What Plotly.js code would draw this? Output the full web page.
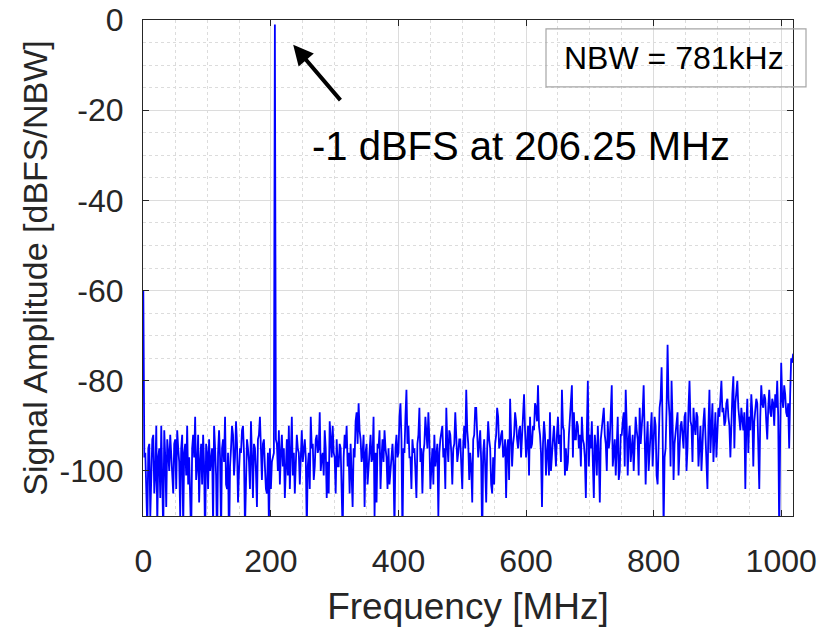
<!DOCTYPE html>
<html>
<head>
<meta charset="utf-8">
<script src="https://cdn.plot.ly/plotly-3.0.1.min.js"></script>
<style>
  html, body { margin: 0; padding: 0; background: #ffffff; }
  #chart { width: 827px; height: 627px; }
</style>
</head>
<body>
<div id="chart"></div>
<script>
// FFT spectrum, bins every 1.5625 MHz (2 x 781.25 kHz) starting at 0 MHz
const binStartMHz = 0;
const binStepMHz = 1.5625;

// Signal amplitude [dBFS/NBW], 20 bins per row
const amplitudeDbfs = [
  -60,-97, -96,-104, -113,-95, -94,-110, -99,-93, -92,-105, -101,-90, -112,-97, -95,-106, -90,-99,
  -114,-91, -97,-108, -93,-96, -100,-92, -96,-102, -105,-94, -93,-104, -91,-95, -98,-110, -95,-92,
  -113,-96, -94,-101, -90,-103, -97,-106, -115,-95, -92,-97, -88,-102, -99,-92, -107,-98, -94,-103,
  -92,-99, -116,-94, -96,-104, -93,-100, -98,-95, -112,-90, -95,-101, -117,-96, -91,-97, -114,-95,
  -93,-98, -88,-103, -104,-96, -118,-99, -95,-90, -92,-101, -97,-89, -94,-107, -100,-95, -96,-91,
  -90,-96, -113,-99, -93,-95, -98,-104, -89,-97, -106,-94, -95,-100, -108,-93, -92,-88, -97,-102,
  -94,-93, -99,-104, -105,-96, -112,-95, -104,-98, -97,-96, -1,-93, -94,-100, -91,-103, -96,-92,
  -99,-95, -106,-97, -93,-101, -90,-104, -95,-88, -101,-96, -105,-98, -92,-95, -96,-103, -94,-91,
  -98,-94, -93,-97, -113,-99, -96,-104, -88,-95, -94,-102, -99,-93, -92,-96, -95,-87, -100,-97,
  -96,-101, -91,-95, -106,-98, -105,-89, -94,-97, -90,-96, -97,-105, -93,-99, -99,-94, -95,-104,
  -114,-97, -92,-95, -90,-99, -96,-105, -94,-101, -108,-95, -97,-89, -87,-94, -85,-91, -93,-98,
  -96,-92, -108,-96, -94,-103, -99,-95, -92,-98, -97,-88, -110,-96, -107,-94, -95,-91, -104,-97,
  -93,-98, -91,-95, -97,-104, -95,-103, -100,-96, -94,-99, -113,-95, -92,-97, -96,-88, -85,-93,
  -115,-95, -96,-88, -82,-94, -90,-97, -97,-104, -93,-96, -95,-100, -106,-94, -92,-86, -98,-95,
  -105,-96, -94,-88, -91,-95, -87,-93, -104,-97, -95,-103, -92,-99, -97,-94, -110,-96, -93,-91,
  -90,-97, -95,-104, -86,-94, -98,-91, -92,-96, -103,-95, -94,-87, -91,-98, -96,-93, -93,-100,
  -104,-94, -90,-95, -82,-91, -94,-102, -96,-99, -107,-93, -92,-86, -86,-92, -97,-94, -91,-98,
  -116,-96, -93,-99, -107,-95, -89,-93, -95,-103, -105,-97, -103,-94, -92,-86, -88,-95, -94,-92,
  -91,-97, -96,-93, -106,-95, -93,-102, -84,-92, -99,-94, -92,-87, -89,-93, -95,-91, -90,-97,
  -93,-89, -83,-91, -97,-94, -90,-101, -88,-95, -94,-90, -91,-85, -86,-89, -81,-90, -92,-96,
  -108,-94, -89,-92, -101,-96, -93,-101, -87,-100, -95,-93, -90,-96, -99,-92, -88,-94, -92,-98,
  -82,-90, -91,-101, -95,-100, -98,-92, -89,-86, -81,-97, -87,-93, -93,-89, -90,-95, -92,-99,
  -88,-93, -94,-97, -106,-91, -80,-99, -92,-95, -89,-98, -106,-92, -95,-101, -90,-96, -107,-93,
  -91,-88, -86,-92, -94,-100, -89,-95, -93,-87, -81,-99, -96,-93, -101,-91, -88,-102, -100,-92,
  -92,-89, -87,-99, -82,-90, -101,-93, -90,-98, -94,-92, -100,-95, -88,-91, -93,-101, -86,-94,
  -91,-87, -81,-92, -103,-94, -89,-100, -95,-90, -87,-99, -92,-88, -90,-101, -103,-91, -86,-84,
  -77,-90, -113,-97, -95,-86, -72,-84, -88,-99, -80,-89, -102,-94, -91,-88, -87,-101, -93,-90,
  -89,-92, -95,-88, -87,-100, -95,-86, -80,-89, -90,-98, -86,-90, -92,-87, -88,-99, -94,-90,
  -100,-92, -89,-86, -92,-95, -104,-90, -82,-96, -90,-85, -98,-91, -87,-97, -91,-86, -88,-84,
  -80,-87, -86,-90, -89,-85, -84,-88, -90,-97, -87,-83, -79,-95, -85,-82, -80,-86, -88,-91,
  -86,-89, -91,-87, -104,-90, -84,-96, -88,-91, -83,-87, -99,-89, -87,-84, -85,-92, -104,-88,
  -81,-85, -86,-83, -84,-89, -93,-86, -82,-87, -88,-84, -85,-90, -83,-86, -80,-88, -114,-92,
  -76,-84, -86,-81, -83,-87, -88,-85, -95,-83, -75,-76, -74
];

// Axis ticks
const xTickVals = [0, 200, 400, 600, 800, 1000];
const xTickText = ['0', '200', '400', '600', '800', '1000'];
const yTickVals = [0, -20, -40, -60, -80, -100];
const yTickText = ['0', '-20', '-40', '-60', '-80', '-100'];

// Annotation texts
const toneLabel = '-1 dBFS at 206.25 MHz';
const nbwLabel = 'NBW = 781kHz';
const xTitle = 'Frequency [MHz]';
const yTitle = 'Signal Amplitude [dBFS/NBW]';

const freqMHz = amplitudeDbfs.map((_, i) => binStartMHz + i * binStepMHz);

const FONT = 'Liberation Sans, Arial, Helvetica, sans-serif';
const TXT = '#262626';
const AX = '#262626';

const trace = {
  type: 'scatter',
  mode: 'lines',
  x: freqMHz,
  y: amplitudeDbfs,
  line: { color: '#0000ff', width: 1.8 },
  hoverinfo: 'x+y',
  showlegend: false
};

const layout = {
  width: 827,
  height: 627,
  margin: { l: 143, r: 34, t: 20, b: 111, pad: 0 },
  paper_bgcolor: '#ffffff',
  plot_bgcolor: '#ffffff',
  font: { family: FONT, color: TXT },
  showlegend: false,
  xaxis: {
    range: [-0.5, 1018.5],
    tickmode: 'array',
    tickvals: xTickVals,
    ticktext: xTickText,
    ticks: 'inside',
    ticklen: 6,
    tickwidth: 1,
    tickcolor: AX,
    showline: true,
    linecolor: AX,
    linewidth: 1,
    mirror: 'ticks',
    showgrid: true,
    gridcolor: '#dcdcdc',
    gridwidth: 1,
    zeroline: false,
    minor: { dtick: 50, tick0: 0, showgrid: true, gridcolor: '#dcdcdc', griddash: 'dot', gridwidth: 1, ticks: '' },
    tickfont: { family: FONT, size: 32, color: TXT },
    ticklabelstandoff: 17,
    title: { text: xTitle, font: { family: FONT, size: 37, color: TXT }, standoff: 14 },
    automargin: false
  },
  yaxis: {
    range: [-110, 0],
    tickmode: 'array',
    tickvals: yTickVals,
    ticktext: yTickText,
    ticks: 'inside',
    ticklen: 6,
    tickwidth: 1,
    tickcolor: AX,
    showline: true,
    linecolor: AX,
    linewidth: 1,
    mirror: 'ticks',
    showgrid: true,
    gridcolor: '#dcdcdc',
    gridwidth: 1,
    zeroline: false,
    minor: { dtick: 5, tick0: 0, showgrid: true, gridcolor: '#dcdcdc', griddash: 'dot', gridwidth: 1, ticks: '' },
    tickfont: { family: FONT, size: 32, color: TXT },
    ticklabelstandoff: 12,
    title: { text: yTitle, font: { family: FONT, size: 34, color: TXT }, standoff: 1 },
    automargin: false
  },
  shapes: [
    {
      type: 'rect', xref: 'paper', yref: 'paper',
      x0: 0.62, x1: 1.02, y0: 0.865, y1: 0.982,
      line: { color: '#a6a6a6', width: 1.2 },
      fillcolor: 'rgba(0,0,0,0)'
    }
  ],
  annotations: [
    {
      xref: 'x', yref: 'y', axref: 'x', ayref: 'y',
      x: 235, y: -5.5, ax: 311, ay: -18.1,
      text: '', showarrow: true,
      arrowhead: 2, arrowsize: 1, arrowwidth: 4, arrowcolor: '#000000', standoff: 0
    },
    {
      xref: 'x', yref: 'y',
      x: 262, y: -27.9, xanchor: 'left', yanchor: 'middle',
      text: toneLabel, showarrow: false,
      font: { family: FONT, size: 40, color: '#000000' }
    },
    {
      xref: 'paper', yref: 'paper',
      x: 0.817, y: 0.923, xanchor: 'center', yanchor: 'middle',
      text: nbwLabel, showarrow: false,
      font: { family: FONT, size: 32, color: '#000000' }
    }
  ]
};

Plotly.newPlot('chart', [trace], layout, { displayModeBar: false, staticPlot: true });
</script>
</body>
</html>
